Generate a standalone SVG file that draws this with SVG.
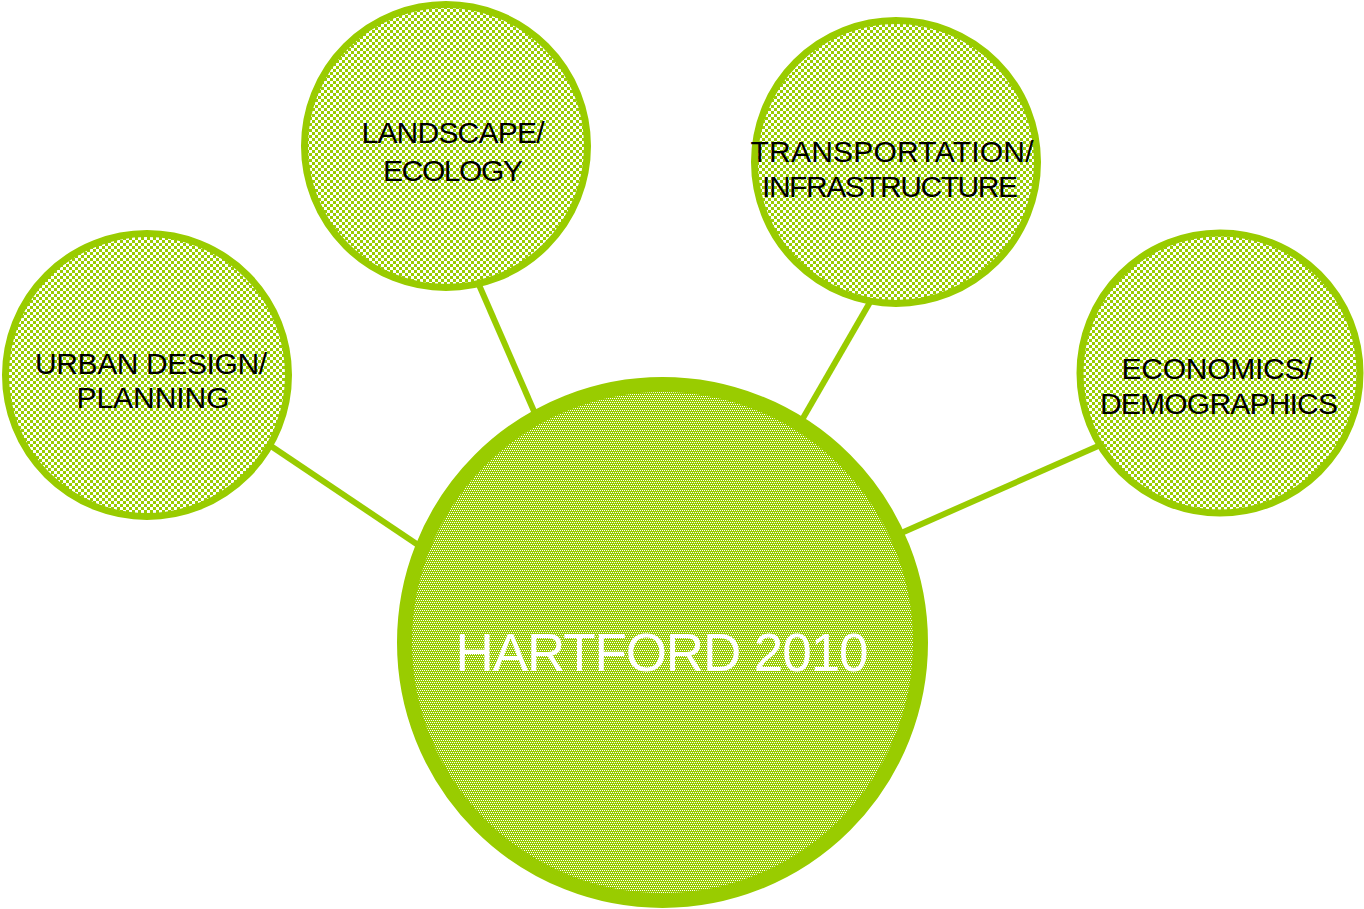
<svg xmlns="http://www.w3.org/2000/svg" width="1364" height="909" viewBox="0 0 1364 909">
  <defs>
    <pattern id="checkSmall" width="6" height="6" patternUnits="userSpaceOnUse">
      <rect width="6" height="6" fill="#ffffff"/>
      <rect x="0" y="0" width="3" height="3" fill="#99cc00"/>
      <rect x="3" y="3" width="3" height="3" fill="#99cc00"/>
    </pattern>
    <pattern id="checkBig" width="4" height="4" patternUnits="userSpaceOnUse">
      <rect width="4" height="4" fill="#99cc00"/>
      <rect x="1" y="0" width="1" height="1" fill="#ffffff"/>
      <rect x="3" y="0" width="1" height="1" fill="#ffffff"/>
      <rect x="0" y="2" width="1" height="1" fill="#ffffff"/>
      <rect x="2" y="2" width="1" height="1" fill="#ffffff"/>
    </pattern>
  </defs>
  <style>
    .conn { stroke: #99cc00; stroke-width: 6; fill: none; }
    .small { fill: url(#checkSmall); stroke: #99cc00; stroke-width: 7; }
    .big { fill: url(#checkBig); stroke: #99cc00; stroke-width: 15; }
    .lbl { font-family: "Liberation Sans", Arial, sans-serif; font-size: 30px; fill: #000000; text-anchor: middle; }
    .title { font-family: "Liberation Sans", Arial, sans-serif; font-size: 53px; fill: #ffffff; text-anchor: middle; }
  </style>
  <rect width="1364" height="909" fill="#ffffff"/>
  <g id="connectors">
    <line class="conn" x1="262" y1="440" x2="430" y2="553"/>
    <line class="conn" x1="476" y1="278" x2="540" y2="425"/>
    <line class="conn" x1="873" y1="297" x2="795" y2="432"/>
    <line class="conn" x1="1105" y1="443" x2="890" y2="538"/>
  </g>
  <g id="hartford">
    <circle cx="662.5" cy="642.5" r="258" fill="#ffffff"/>
    <circle class="big" cx="662.5" cy="642.5" r="258"/>
    <text class="title" x="662" y="671" textLength="413">HARTFORD 2010</text>
  </g>
  <g id="urban">
    <circle cx="147" cy="375" r="141.5" fill="#ffffff"/>
    <circle class="small" cx="147" cy="375" r="141.5"/>
    <text class="lbl" x="151" y="374" textLength="232">URBAN DESIGN/</text>
    <text class="lbl" x="153" y="408" textLength="153">PLANNING</text>
  </g>
  <g id="landscape">
    <circle cx="446" cy="146" r="141.5" fill="#ffffff"/>
    <circle class="small" cx="446" cy="146" r="141.5"/>
    <text class="lbl" x="453" y="143" textLength="183">LANDSCAPE/</text>
    <text class="lbl" x="453" y="181" textLength="140">ECOLOGY</text>
  </g>
  <g id="transportation">
    <circle cx="896" cy="162" r="141.5" fill="#ffffff"/>
    <circle class="small" cx="896" cy="162" r="141.5"/>
    <text class="lbl" x="892" y="162" textLength="283">TRANSPORTATION/</text>
    <text class="lbl" x="890" y="197" textLength="256">INFRASTRUCTURE</text>
  </g>
  <g id="economics">
    <circle cx="1220" cy="373" r="140" fill="#ffffff"/>
    <circle class="small" cx="1220" cy="373" r="140"/>
    <text class="lbl" x="1217" y="379" textLength="191">ECONOMICS/</text>
    <text class="lbl" x="1219" y="414" textLength="238">DEMOGRAPHICS</text>
  </g>
</svg>
